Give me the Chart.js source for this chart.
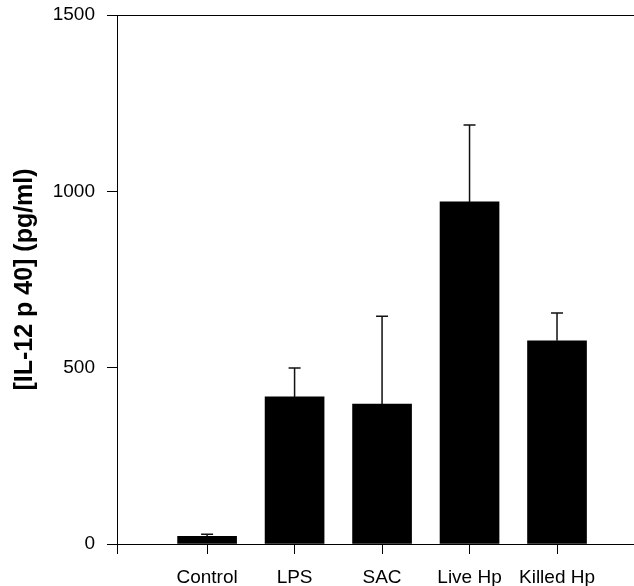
<!DOCTYPE html>
<html>
<head>
<meta charset="utf-8">
<script src="https://cdn.jsdelivr.net/npm/chart.js@4.4.1/dist/chart.umd.min.js"></script>
<style>
  html, body { margin: 0; padding: 0; background: #fff; }
  #wrap { width: 634px; height: 586px; }
</style>
</head>
<body>
<div id="wrap"><canvas id="il12" width="634" height="586"></canvas></div>
<script>
// IL-12 p40 by stimulus, mean + SEM (upper bar only)
const categories = ['Control', 'LPS', 'SAC', 'Live Hp', 'Killed Hp'];
const means = [22, 417, 397, 970, 576];
const sem = [6, 82, 249, 218, 79];
const yTicks = [0, 500, 1000, 1500];

const xMin = -0.03, xMax = 5.88;
const tickFont = { family: "'Liberation Sans', Arial, sans-serif", size: 19 };

const errorBars = {
  id: 'errorBars',
  afterDatasetsDraw(chart) {
    const { ctx, scales: { x, y } } = chart;
    ctx.save();
    ctx.strokeStyle = '#111';
    ctx.lineWidth = 1.5;
    means.forEach((m, i) => {
      const px = x.getPixelForValue(i + 1);
      const top = y.getPixelForValue(m + sem[i]);
      const base = y.getPixelForValue(m);
      ctx.beginPath();
      ctx.moveTo(px, base);
      ctx.lineTo(px, top);
      ctx.moveTo(px - 6, top);
      ctx.lineTo(px + 6, top);
      ctx.stroke();
    });
    ctx.restore();
  }
};

new Chart(document.getElementById('il12'), {
  type: 'bar',
  data: {
    datasets: [{
      data: means.map((m, i) => ({ x: i + 1, y: m })),
      backgroundColor: '#000',
      borderWidth: 0,
      barThickness: 59
    }]
  },
  options: {
    responsive: false,
    animation: false,
    layout: { padding: { top: 15, right: 0, left: 0, bottom: 0 } },
    plugins: { legend: { display: false }, tooltip: { enabled: false } },
    scales: {
      x: {
        type: 'linear',
        offset: false,
        min: xMin,
        max: xMax,
        afterBuildTicks: (s) => { s.ticks = [{ value: xMin }].concat(categories.map((c, i) => ({ value: i + 1 }))); },
        afterFit: (s) => { s.height = 42; },
        ticks: {
          autoSkip: false,
          maxRotation: 0,
          padding: 12,
          color: '#000',
          font: tickFont,
          callback: (v) => categories[Math.round(v) - 1] || ''
        },
        grid: { drawOnChartArea: false, offset: false, tickLength: 10, tickColor: '#000', color: '#000' },
        border: { color: '#000', width: 1 }
      },
      y: {
        min: 0,
        max: 1500,
        afterBuildTicks: (s) => { s.ticks = yTicks.map(v => ({ value: v })); },
        // fixed axis width; let the top tick label overhang instead of pushing the plot down
        afterFit: (s) => { s.width = 117; s.paddingTop = 0; s.paddingBottom = 0; },
        ticks: { padding: 12, color: '#000', font: tickFont, callback: (v) => String(v) },
        grid: {
          tickLength: 10,
          tickColor: '#000',
          color: (c) => (c.tick && c.tick.value === 1500 ? '#000' : 'rgba(0,0,0,0)')
        },
        border: { color: '#000', width: 1 },
        title: {
          display: true,
          text: '[IL-12 p 40] (pg/ml)',
          color: '#000',
          font: { family: "'Liberation Sans', Arial, sans-serif", size: 25, weight: 'bold' },
          padding: { top: 10, bottom: 0 }
        }
      }
    }
  },
  plugins: [errorBars]
});
</script>
</body>
</html>
